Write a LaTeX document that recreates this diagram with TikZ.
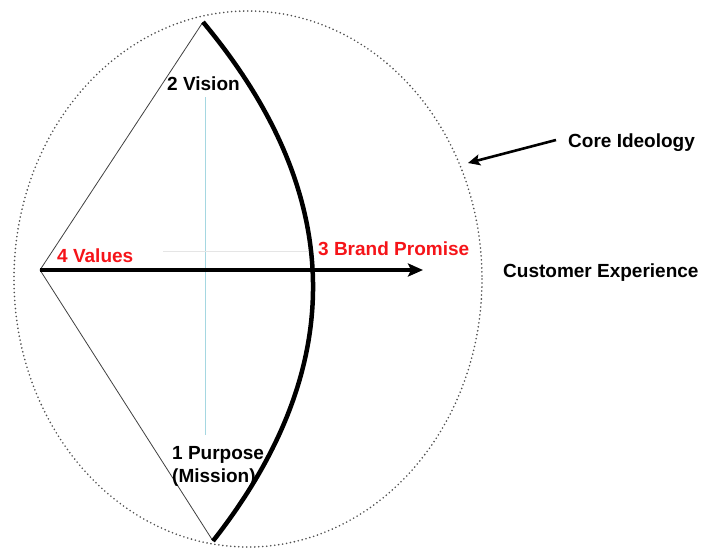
\documentclass[tikz,border=0pt]{standalone}
\usepackage{fontspec}
\setmainfont{Liberation Sans}
\usetikzlibrary{arrows.meta}
\definecolor{brandred}{RGB}{245,20,25}
\definecolor{faintblue}{RGB}{165,215,225}
\definecolor{dotgray}{RGB}{80,80,80}
\tikzset{
  lbl/.style={inner sep=0pt, font=\bfseries\fontsize{19}{23}\selectfont},
  redlbl/.style={lbl, text=brandred},
  ring/.style={draw=dotgray, line width=1.8pt, line cap=round, dash pattern=on 0pt off 4pt},
  side/.style={draw=black!75, line width=0.8pt},
  bow/.style={draw=black, line width=4.5pt},
  mainarrow/.style={draw=black, line width=3.5pt, -{Stealth[length=15pt,width=13pt,inset=3pt]}},
  pointer/.style={draw=black, line width=2.6pt, -{Stealth[length=12pt,width=11pt,inset=2.5pt]}},
  guide/.style={draw=faintblue, line width=0.9pt},
  hguide/.style={draw=black!10, line width=0.8pt}
}
\begin{document}
\begin{tikzpicture}[x=1pt,y=-1pt]
\useasboundingbox (0,0) rectangle (704,549);
% outer dotted ellipse
\draw[ring] (248,279) ellipse [x radius=234, y radius=268];
% coordinates
\coordinate (vtop) at (203,22);
\coordinate (pbot) at (213,541);
\coordinate (vals) at (40,270);
\coordinate (tip) at (423,270);
\coordinate (c1) at (348,196);
\coordinate (c2) at (348,369);
\coordinate (gtop) at (205,97);
\coordinate (gbot) at (205,435);
\coordinate (hl) at (163,251);
\coordinate (hr) at (308,251);
% faint guides
\draw[guide] (gtop) -- (gbot);
\draw[hguide] (hl) -- (hr);
% triangle sides
\draw[side] (vals) -- (vtop);
\draw[side] (vals) -- (pbot);
% thick bow arc
\draw[bow] (vtop) .. controls (c1) and (c2) .. (pbot);
% main arrow
\draw[mainarrow] (vals) -- (tip);
% labels
\node[lbl, anchor=base west] (vision) at (167,90) {2 Vision};
\node[redlbl, anchor=base west] (values) at (57,262) {4 Values};
\node[redlbl, anchor=base west] (brand) at (318,255) {3 Brand Promise};
\node[lbl, anchor=base west] (cx) at (503,277) {Customer Experience};
\node[lbl, anchor=base west] (core) at (568,147) {Core Ideology};
\node[lbl, anchor=north west, align=left] (purpose) at (172,446) {1 Purpose\\(Mission)};
% pointer arrow
\coordinate (pstart) at (556,140);
\coordinate (ringpt) at (468,163);
\draw[pointer] (pstart) -- (ringpt);
\end{tikzpicture}
\end{document}
